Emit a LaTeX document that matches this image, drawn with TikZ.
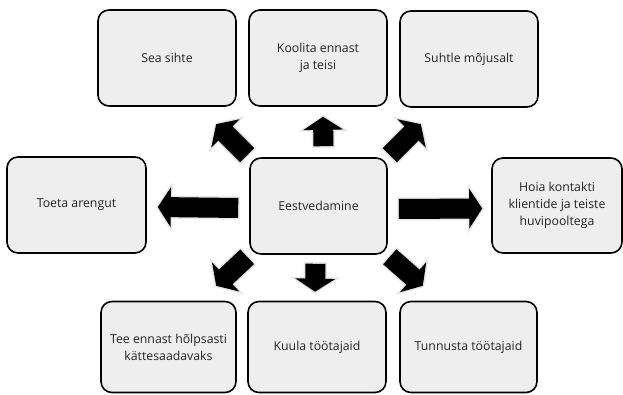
\documentclass[tikz,border=0pt]{standalone}
\usepackage{fontspec}
\setmainfont{Open Sans}
\usetikzlibrary{calc}
\definecolor{boxfill}{HTML}{EEEEEE}
\definecolor{boxtext}{HTML}{222222}
\definecolor{glow}{HTML}{E6E6E6}
\tikzset{
  item/.style={draw=black, line width=1.6pt, fill=boxfill, rounded corners=11pt,
    minimum width=138pt, minimum height=96pt, inner sep=0pt, align=center,
    text=boxtext, font=\fontsize{12.3}{17}\selectfont},
  blockarrow/.style={fill=black, preaction={draw=glow, line width=3pt, line join=miter}},
}
% block arrow from #1 (tail) to #2 (tip)
\newcommand{\blockarr}[2]{%
  \path[blockarrow] let \p1=(#1), \p2=(#2),
    \n1={atan2(\y2-\y1,\x2-\x1)}, \n2={veclen(\x2-\x1,\y2-\y1)} in
    [shift={(\p1)}, rotate=\n1]
    (0,-10) -- (\n2-13,-10) -- (\n2-13,-20) -- (\n2,0) -- (\n2-13,20)
    -- (\n2-13,10) -- (0,10) -- cycle;}
\begin{document}
\begin{tikzpicture}[x=1pt, y=1pt]
\useasboundingbox (0,0) rectangle (623,395);

% outer boxes
\node[item] (sea)      at (167,337)   {Sea sihte};
\node[item] (koolita)  at (318,337)   {Koolita ennast\\ja teisi};
\node[item] (suhtle)   at (469,336)   {Suhtle mõjusalt};
\node[item, minimum width=139pt] (toeta) at (76.5,190) {Toeta arengut};
\node[item, minimum width=137pt] (lead)  at (318.5,189) {Eestvedamine};
\node[item, minimum width=130pt, minimum height=95pt] (hoia) at (557,189.5)
  {Hoia kontakti\\klientide ja teiste\\huvipooltega};
\node[item, minimum width=135pt, minimum height=91pt] (tee) at (168.5,48)
  {Tee ennast hõlpsasti\\kättesaadavaks};
\node[item, minimum height=91pt] (kuula) at (317,48) {Kuula töötajaid};
\node[item, minimum width=137pt, minimum height=91pt] (tunnusta) at (468.5,48)
  {Tunnusta töötajaid};

% arrow end points
\coordinate (nT)  at ($(lead.north)+(5,11)$);
\coordinate (nH)  at ($(koolita.south)+(5,-10)$);
\coordinate (sT)  at ($(lead.south)+(-3,-9)$);
\coordinate (sH)  at ($(kuula.north)+(-2,9)$);
\coordinate (wT)  at ($(lead.west)+(-11,-2)$);
\coordinate (wH)  at ($(toeta.east)+(11,-2)$);
\coordinate (eT)  at ($(lead.east)+(11,-3)$);
\coordinate (eH)  at ($(hoia.west)+(-9,-3)$);
\coordinate (nwT) at ($(lead.north west)+(-2,2)$);
\coordinate (nwH) at ($(lead.north west)+(-33,33)$);
\coordinate (neT) at ($(lead.north east)+(2,2)$);
\coordinate (neH) at ($(lead.north east)+(33,33)$);
\coordinate (swT) at ($(lead.south west)+(-2,-2)$);
\coordinate (swH) at ($(lead.south west)+(-33,-31)$);
\coordinate (seT) at ($(lead.south east)+(2,-2)$);
\coordinate (seH) at ($(lead.south east)+(35,-31)$);

% arrows out of the centre
\blockarr{nT}{nH}
\blockarr{sT}{sH}
\blockarr{wT}{wH}
\blockarr{eT}{eH}
\blockarr{nwT}{nwH}
\blockarr{neT}{neH}
\blockarr{swT}{swH}
\blockarr{seT}{seH}
\end{tikzpicture}
\end{document}
